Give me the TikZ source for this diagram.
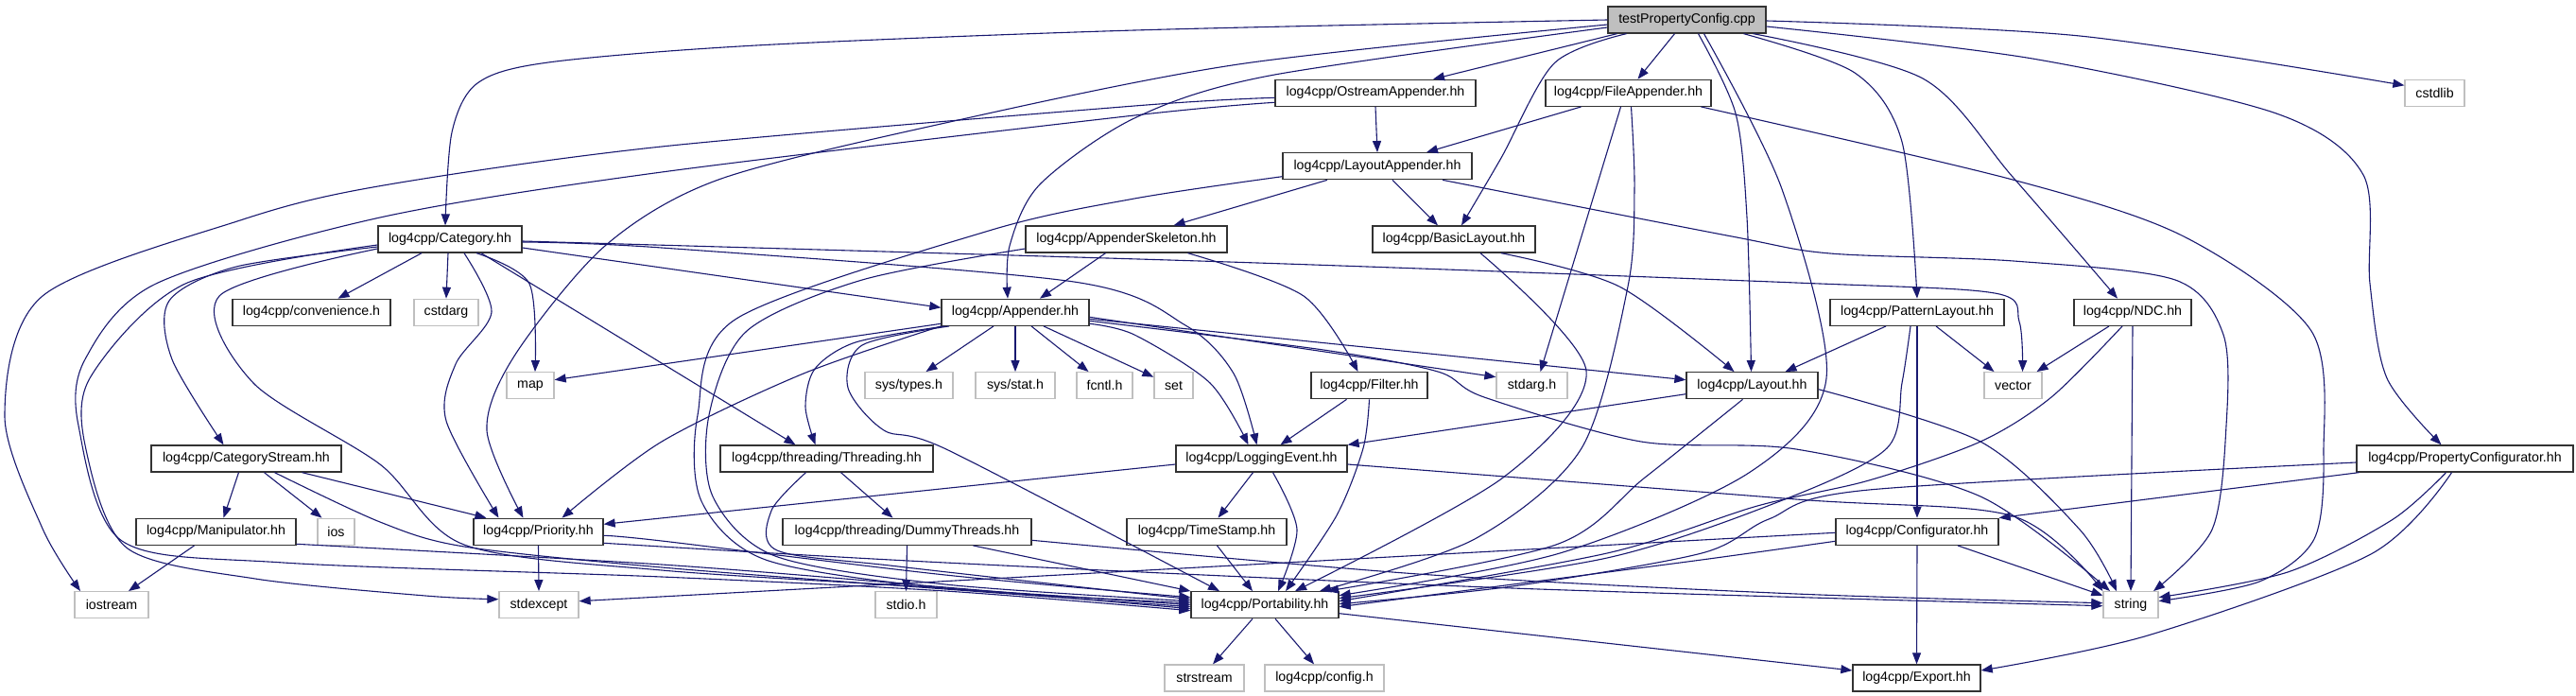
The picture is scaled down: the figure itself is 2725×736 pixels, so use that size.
\documentclass[tikz,border=0pt]{standalone}
\usepackage{fontspec}
\setmainfont{Liberation Sans}
\usetikzlibrary{arrows.meta}
\definecolor{edgec}{HTML}{191970}
\definecolor{sysb}{HTML}{BFBFBF}
\definecolor{projb}{HTML}{333333}
\definecolor{mainf}{HTML}{BFBFBF}
\begin{document}
\begin{tikzpicture}[x=1pt,y=-1pt,
  box/.style={rectangle, minimum height=28pt, inner sep=0pt, line width=1.3pt,
    font=\fontsize{14.2pt}{16pt}\selectfont, anchor=center},
  proj/.style={box, draw=projb, fill=white},
  sys/.style={box, draw=sysb, fill=white},
  mainnode/.style={box, draw=projb, fill=mainf},
  e/.style={draw=edgec, line width=1.1pt, -{Triangle[length=12pt,width=9pt]}}]
\useasboundingbox[fill=white] (0,0) rectangle (2725,736);

% ---------- nodes ----------
\node[mainnode, minimum width=167pt] (tPC) at (1784.5,21) {testPropertyConfig.cpp};
\node[sys, minimum width=63pt] (cstdlib) at (2575.5,98.3) {cstdlib};
\node[proj, minimum width=212pt] (ostream) at (1455,98.3) {log4cpp/OstreamAppender.hh};
\node[proj, minimum width=175pt] (fileapp) at (1722.5,98.3) {log4cpp/FileAppender.hh};
\node[proj, minimum width=200pt] (layoutapp) at (1457,175.7) {log4cpp/LayoutAppender.hh};
\node[proj, minimum width=152pt] (category) at (476,253) {log4cpp/Category.hh};
\node[proj, minimum width=213pt] (appskel) at (1191.5,253) {log4cpp/AppenderSkeleton.hh};
\node[proj, minimum width=172pt] (basiclayout) at (1538,253) {log4cpp/BasicLayout.hh};
\node[proj, minimum width=167pt] (conv) at (329.5,330.3) {log4cpp/convenience.h};
\node[sys, minimum width=68pt] (cstdarg) at (472,330.3) {cstdarg};
\node[proj, minimum width=156pt] (appender) at (1074,330.3) {log4cpp/Appender.hh};
\node[proj, minimum width=184pt] (patternlayout) at (2028,330.3) {log4cpp/PatternLayout.hh};
\node[proj, minimum width=124pt] (ndc) at (2256,330.3) {log4cpp/NDC.hh};
\node[sys, minimum width=50pt] (map) at (561,407.7) {map};
\node[sys, minimum width=93pt] (systypes) at (961.5,407.7) {sys/types.h};
\node[sys, minimum width=84pt] (sysstat) at (1074,407.7) {sys/stat.h};
\node[sys, minimum width=59pt] (fcntl) at (1168.5,407.7) {fcntl.h};
\node[sys, minimum width=41pt] (set) at (1241.5,407.7) {set};
\node[proj, minimum width=123pt] (filter) at (1448.5,407.7) {log4cpp/Filter.hh};
\node[sys, minimum width=75pt] (stdargh) at (1620.5,407.7) {stdarg.h};
\node[proj, minimum width=139pt] (layout) at (1853.5,407.7) {log4cpp/Layout.hh};
\node[sys, minimum width=61pt] (vector) at (2129.5,407.7) {vector};
\node[proj, minimum width=201pt] (catstream) at (260.5,485) {log4cpp/CategoryStream.hh};
\node[proj, minimum width=225pt] (threading) at (874.5,485) {log4cpp/threading/Threading.hh};
\node[proj, minimum width=181pt] (logevent) at (1334.5,485) {log4cpp/LoggingEvent.hh};
\node[proj, minimum width=229pt] (propconf) at (2607.5,485) {log4cpp/PropertyConfigurator.hh};
\node[proj, minimum width=169pt] (manip) at (228.5,562.3) {log4cpp/Manipulator.hh};
\node[sys, minimum width=39pt] (ios) at (355.5,562.3) {ios};
\node[proj, minimum width=137pt] (priority) at (569.5,562.3) {log4cpp/Priority.hh};
\node[proj, minimum width=263pt] (dummy) at (959.5,562.3) {log4cpp/threading/DummyThreads.hh};
\node[proj, minimum width=169pt] (timestamp) at (1276.5,562.3) {log4cpp/TimeStamp.hh};
\node[proj, minimum width=172pt] (configurator) at (2028,562.3) {log4cpp/Configurator.hh};
\node[sys, minimum width=78pt] (iostream) at (118,639.7) {iostream};
\node[sys, minimum width=84pt] (stdexcept) at (570,639.7) {stdexcept};
\node[sys, minimum width=65pt] (stdio) at (958.5,639.7) {stdio.h};
\node[proj, minimum width=156pt] (portab) at (1338,639.7) {log4cpp/Portability.hh};
\node[sys, minimum width=58pt] (string) at (2254,639.7) {string};
\node[sys, minimum width=84pt] (strstream) at (1274,717) {strstream};
\node[sys, minimum width=126pt] (confh) at (1401,717) {log4cpp/config.h};
\node[proj, minimum width=135pt] (export) at (2027.5,717) {log4cpp/Export.hh};

% ---------- edges: testPropertyConfig.cpp ----------
\draw[e] plot[smooth] coordinates {(tPC.west) (1200,32) (800,48) (580,66) (505,88) (478,140) ([xshift=-5pt]category.north)};
\draw[e] plot[smooth] coordinates {([yshift=-5pt]tPC.west) (1310,68) (1000,130) (760,190) (640,260) (545,375) (515,455) ([xshift=-16pt]priority.north)};
\draw[e] plot[smooth] coordinates {([yshift=-8pt]tPC.west) (1343,80) (1200,125) (1100,195) (1068,260) ([xshift=-8pt]appender.north)};
\draw[e] ([xshift=-74pt]tPC.south) -- ([xshift=61pt]ostream.north);
\draw[e] ([xshift=-13pt]tPC.south) -- ([xshift=10pt]fileapp.north);
\draw[e] plot[smooth] coordinates {([xshift=-64pt]tPC.south) (1644,67) (1588,167) ([xshift=8pt]basiclayout.north)};
\draw[e] plot[smooth] coordinates {([xshift=12pt]tPC.south) (1836,120) (1848,230) ([xshift=-1pt]layout.north)};
\draw[e] plot[smooth] coordinates {([xshift=18pt]tPC.south) (1885,200) (1932,400) (1850,500) (1650,585) ([yshift=10pt]portab.east)};
\draw[e] plot[smooth] coordinates {([xshift=60pt]tPC.south) (1962,77) (2012,150) (patternlayout.north)};
\draw[e] plot[smooth] coordinates {([xshift=70pt]tPC.south) (2034,83) (2129,187) ([xshift=-16pt]ndc.north)};
\draw[e] plot[smooth] coordinates {([yshift=-7pt]tPC.east) (2150,62) (2408,120) (2500,185) (2507,300) (2525,400) ([xshift=-25pt]propconf.north)};
\draw[e] plot[smooth] coordinates {([yshift=-1pt]tPC.east) (2200,38) ([yshift=8pt]cstdlib.west)};

% ---------- OstreamAppender ----------
\draw[e] (ostream.south) -- (layoutapp.north);
\draw[e] plot[smooth] coordinates {([yshift=-5pt]ostream.west) (1200,112) (700,155) (400,197) (254,233) (45,313) (5,440) (45,559) ([xshift=-33pt]iostream.north)};
\draw[e] plot[smooth] coordinates {([yshift=-10pt]ostream.west) (1200,122) (700,182) (402,230) (165,300) (90,380) (83,450) (129,572) (300,595) (700,610) (1000,625) ([yshift=-6pt]portab.west)};

% ---------- FileAppender ----------
\draw[e] ([xshift=-50pt]fileapp.south) -- ([xshift=52pt]layoutapp.north);
\draw[e] ([xshift=-8pt]fileapp.south) -- ([xshift=9pt]stdargh.north);
\draw[e] plot[smooth] coordinates {([xshift=3pt]fileapp.south) (1729,200) (1722,303) (1673,474) (1560,570) ([xshift=58pt]portab.north)};
\draw[e] plot[smooth] coordinates {([xshift=77pt]fileapp.south) (2129,190) (2310,250) (2445,350) (2458,480) (2448,570) (2390,615) ([yshift=4pt]string.east)};

% ---------- LayoutAppender ----------
\draw[e] ([xshift=-53pt]layoutapp.south) -- ([xshift=50pt]appskel.north);
\draw[e] ([xshift=16pt]layoutapp.south) -- ([xshift=-17pt]basiclayout.north);
\draw[e] plot[smooth] coordinates {([xshift=69pt]layoutapp.south) (1832,250) (1936,268) (2130,276) (2301,296) (2352,354) (2355,450) (2340,560) ([xshift=24pt]string.north)};
\draw[e] plot[smooth] coordinates {([yshift=-11pt]layoutapp.west) (1200,210) (1046,244) (779,337) (738,439) (742,530) (810,592) (1000,622) ([yshift=2pt]portab.west)};

% ---------- AppenderSkeleton ----------
\draw[e] ([xshift=-22pt]appskel.south) -- ([xshift=26pt]appender.north);
\draw[e] plot[smooth] coordinates {([yshift=-10pt]appskel.west) (912,296) (790,350) (750,439) (754,525) (820,588) (1000,618) ([yshift=4pt]portab.west)};
\draw[e] plot[smooth] coordinates {([xshift=65pt]appskel.south) (1379,313) ([xshift=-12pt]filter.north)};

% ---------- BasicLayout ----------
\draw[e] plot[smooth] coordinates {([xshift=50pt]basiclayout.south) (1713,303) ([xshift=-19pt]layout.north)};
\draw[e] plot[smooth] coordinates {([xshift=28pt]basiclayout.south) (1678,392) (1590,505) ([xshift=32pt]portab.north)};

% ---------- Category ----------
\draw[e] ([xshift=-30pt]category.south) -- ([xshift=28pt]conv.north);
\draw[e] ([xshift=-2pt]category.south) -- (cstdarg.north);
\draw[e] plot[smooth] coordinates {([xshift=28pt]category.south) (560,300) ([xshift=5pt]map.north)};
\draw[e] plot[smooth] coordinates {([xshift=15pt]category.south) (520,330) (482,385) (472,445) ([xshift=-42pt]priority.north)};
\draw[e] ([xshift=33pt]category.south) -- ([xshift=-33pt]threading.north);
\draw[e] ([yshift=-9pt]category.east) -- ([yshift=5pt]appender.west);
\draw[e] plot[smooth] coordinates {([yshift=-3pt]category.east) (700,262) (1136,298) (1254,344) (1305,395) ([xshift=-5pt]logevent.north)};
\draw[e] plot[smooth] coordinates {([yshift=-2pt]category.east) (1300,277) (1900,299) (2110,310) (2136,340) ([xshift=10pt]vector.north)};
\draw[e] plot[smooth] coordinates {([yshift=-8pt]category.west) (250,282) (179,318) (182,380) ([xshift=-24pt]catstream.north)};
\draw[e] plot[smooth] coordinates {([yshift=-10pt]category.west) (232,313) (268,405) (402,491) (491,576) (700,603) (1000,622) (portab.west)};
\draw[e] plot[smooth] coordinates {([yshift=-6pt]category.west) (196,300) (95,400) (92,480) (135,580) (270,612) (450,630) ([yshift=6pt]stdexcept.west)};

% ---------- Appender ----------
\draw[e] ([yshift=-12pt]appender.west) -- ([yshift=6pt]map.east);
\draw[e] ([xshift=-23pt]appender.south) -- ([xshift=18pt]systypes.north);
\draw[e] (appender.south) -- (sysstat.north);
\draw[e] ([xshift=17pt]appender.south) -- ([xshift=-17pt]fcntl.north);
\draw[e] ([xshift=30pt]appender.south) -- ([yshift=9pt]set.west);
\draw[e] ([yshift=-5pt]appender.east) -- ([yshift=9pt]stdargh.west);
\draw[e] ([yshift=-7pt]appender.east) -- ([yshift=6pt]layout.west);
\draw[e] plot[smooth] coordinates {([yshift=-9pt]appender.east) (1400,370) (1521,393) (1570,420) (1736,467) (1900,475) (2095,525) ([xshift=-22pt]string.north)};
\draw[e] plot[smooth] coordinates {([yshift=-12pt]appender.east) (1200,354) (1280,405) ([xshift=-14pt]logevent.north)};
\draw[e] plot[smooth] coordinates {(appender.south west) (850,395) (700,467) ([xshift=25pt]priority.north)};
\draw[e] plot[smooth] coordinates {([xshift=-75pt]appender.south) (905,362) (862,390) (852,430) ([xshift=-12pt]threading.north)};
\draw[e] plot[smooth] coordinates {([xshift=-70pt]appender.south) (912,365) (897,410) (935,455) (1003,476) ([xshift=-48pt]portab.north)};

% ---------- Threading ----------
\draw[e] ([xshift=15pt]threading.south) -- ([xshift=-15pt]dummy.north);
\draw[e] plot[smooth] coordinates {([xshift=-22pt]threading.south) (816,540) (822,582) (950,599) ([yshift=6pt]portab.west)};

% ---------- DummyThreads ----------
\draw[e] (dummy.south) -- (stdio.north);
\draw[e] ([xshift=70pt]dummy.south) -- (portab.north west);
\draw[e] plot[smooth] coordinates {([yshift=-9pt]dummy.east) (1500,607) (1900,628) ([yshift=2pt]string.west)};

% ---------- Priority ----------
\draw[e] (priority.south) -- (stdexcept.north);
\draw[e] plot[smooth] coordinates {([yshift=-4pt]priority.east) (700,572) (1000,608) ([yshift=8pt]portab.west)};
\draw[e] plot[smooth] coordinates {([yshift=-12pt]priority.east) (1000,595) (1600,622) ([yshift=-1pt]string.west)};

% ---------- LoggingEvent ----------
\draw[e] ([yshift=-6pt]logevent.west) -- ([yshift=8pt]priority.east);
\draw[e] ([xshift=-9pt]logevent.south) -- ([xshift=12pt]timestamp.north);
\draw[e] plot[smooth] coordinates {([xshift=12pt]logevent.south) (1372,560) ([xshift=14pt]portab.north)};
\draw[e] plot[smooth] coordinates {([yshift=-6pt]logevent.east) (1900,528) (2130,546) (string.north west)};

% ---------- TimeStamp ----------
\draw[e] ([xshift=11pt]timestamp.south) -- ([xshift=-13pt]portab.north);

% ---------- Filter ----------
\draw[e] ([xshift=-24pt]filter.south) -- ([xshift=20pt]logevent.north);
\draw[e] plot[smooth] coordinates {(filter.south) (1442,474) (1414,545) ([xshift=22pt]portab.north)};

% ---------- Layout ----------
\draw[e] ([yshift=-9pt]layout.west) -- (logevent.north east);
\draw[e] plot[smooth] coordinates {([xshift=-10pt]layout.south) (1740,505) (1646,576) ([xshift=66pt]portab.north)};
\draw[e] plot[smooth] coordinates {([yshift=-4pt]layout.east) (2095,467) (2200,560) ([xshift=-15pt]string.north)};

% ---------- PatternLayout ----------
\draw[e] ([xshift=-33pt]patternlayout.south) -- ([xshift=35pt]layout.north);
\draw[e] ([xshift=20pt]patternlayout.south) -- ([xshift=-20pt]vector.north);
\draw[e] (patternlayout.south) -- (configurator.north);
\draw[e] plot[smooth] coordinates {([xshift=-7pt]patternlayout.south) (2012,405) (1996,474) (1888,528) (1700,590) ([yshift=7pt]portab.east)};

% ---------- NDC ----------
\draw[e] ([xshift=-25pt]ndc.south) -- ([xshift=25pt]vector.north);
\draw[e] (ndc.south) -- (string.north);
\draw[e] plot[smooth] coordinates {([xshift=-11pt]ndc.south) (2170,420) (2095,467) (1977,508) (1859,535) (1700,585) ([yshift=4pt]portab.east)};

% ---------- PropertyConfigurator ----------
\draw[e] plot[smooth] coordinates {([yshift=-4pt]propconf.west) (1977,518) (1871,549) (1800,585) (1600,620) ([yshift=1pt]portab.east)};
\draw[e] ([xshift=-112pt]propconf.south) -- (configurator.north east);
\draw[e] plot[smooth] coordinates {([xshift=-20pt]propconf.south) (2530,550) (2420,605) ([yshift=8pt]string.east)};
\draw[e] plot[smooth] coordinates {([xshift=-14pt]propconf.south) (2508,586) (2272,672) ([yshift=8pt]export.east)};

% ---------- Configurator ----------
\draw[e] plot[smooth] coordinates {([yshift=-10pt]configurator.west) (1800,592) (1600,618) ([yshift=-2pt]portab.east)};
\draw[e] ([yshift=-1pt]configurator.west) -- ([yshift=4pt]stdexcept.east);
\draw[e] ([xshift=43pt]configurator.south) -- ([yshift=10pt]string.west);
\draw[e] (configurator.south) -- (export.north);

% ---------- Portability ----------
\draw[e] ([xshift=-13pt]portab.south) -- ([xshift=9pt]strstream.north);
\draw[e] ([xshift=11pt]portab.south) -- ([xshift=-11pt]confh.north);
\draw[e] ([yshift=-9pt]portab.east) -- ([yshift=8pt]export.west);

% ---------- CategoryStream ----------
\draw[e] ([xshift=-8pt]catstream.south) -- ([xshift=8pt]manip.north);
\draw[e] ([xshift=19pt]catstream.south) -- ([xshift=-15pt]ios.north);
\draw[e] ([xshift=59pt]catstream.south) -- ([xshift=-55pt]priority.north);
\draw[e] plot[smooth] coordinates {([xshift=30pt]catstream.south) (402,552) (491,578) (700,600) (1000,623) ([yshift=-2pt]portab.west)};

% ---------- Manipulator ----------
\draw[e] ([xshift=-23pt]manip.south) -- ([xshift=18pt]iostream.north);
\draw[e] plot[smooth] coordinates {([yshift=-13pt]manip.east) (700,597) (1000,621) ([yshift=-4pt]portab.west)};
\end{tikzpicture}
\end{document}
